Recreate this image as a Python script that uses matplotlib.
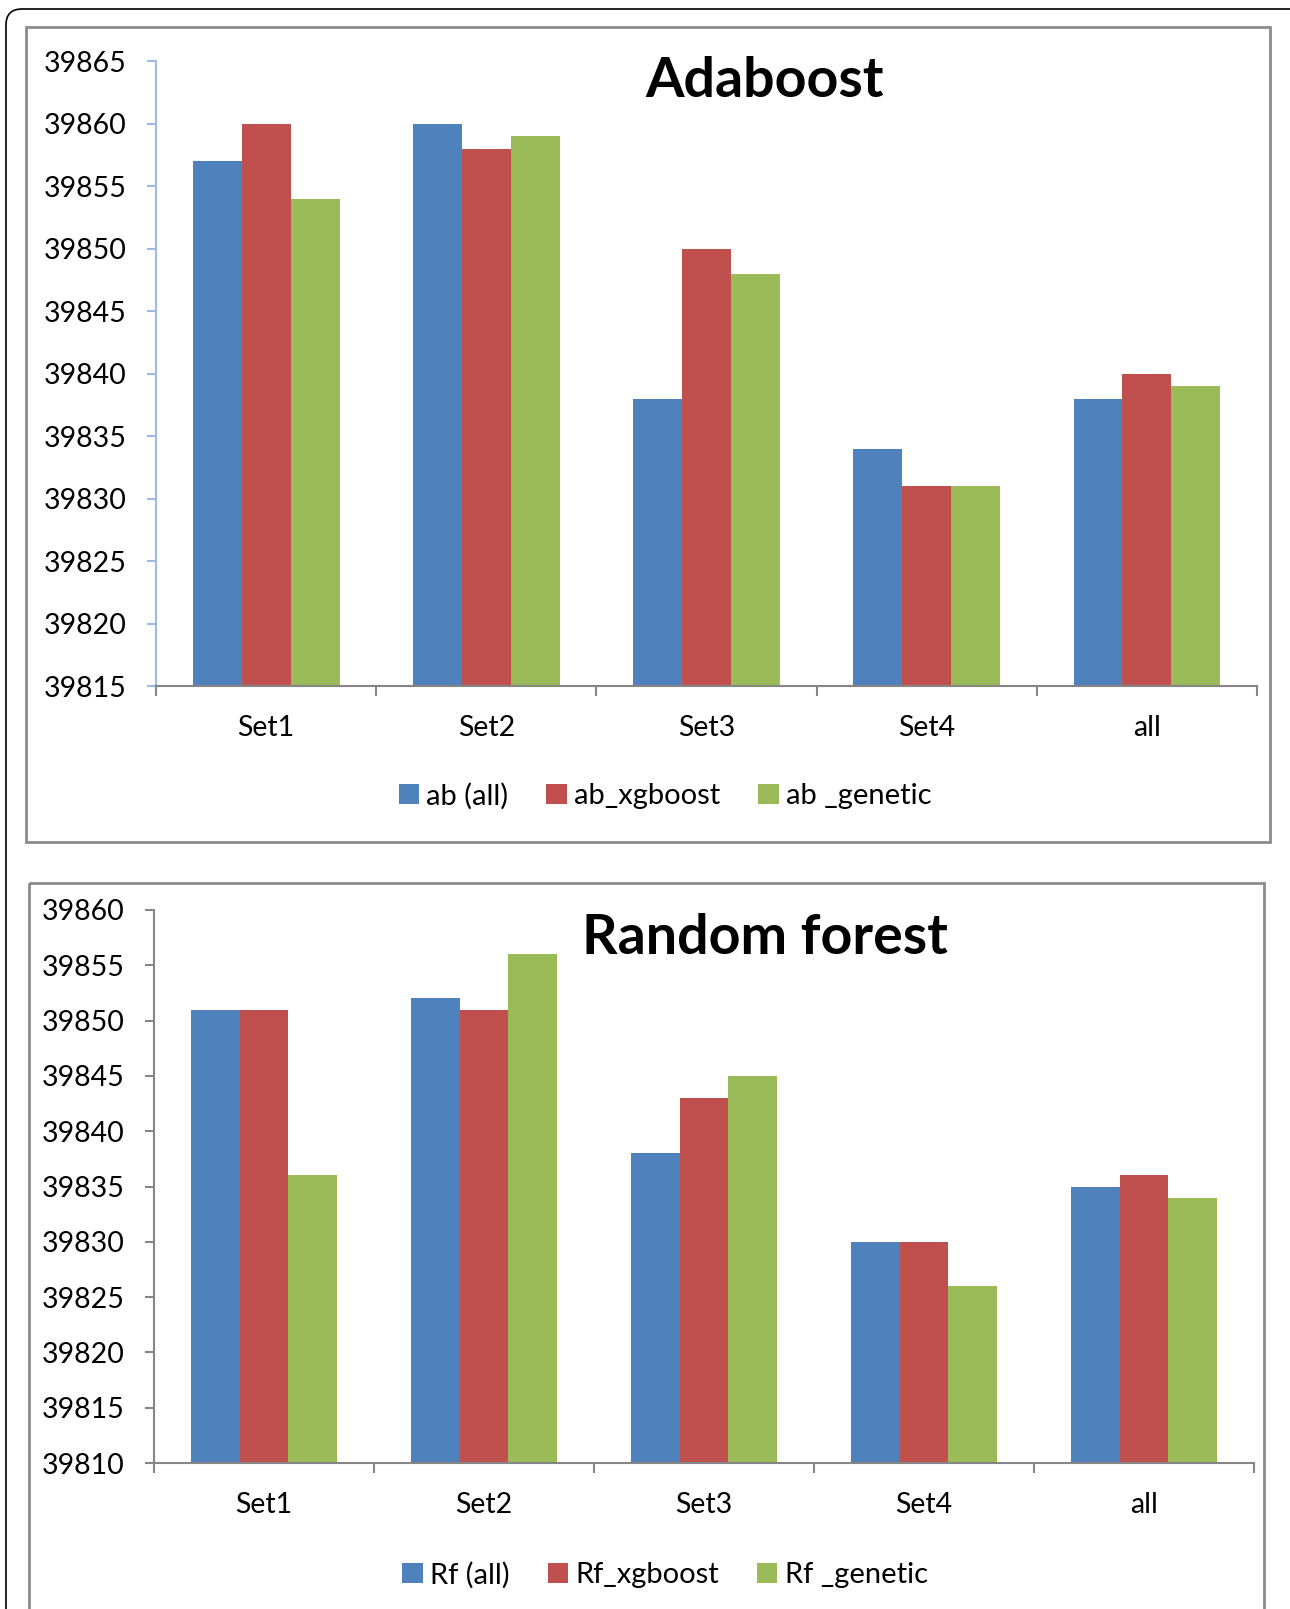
import matplotlib
matplotlib.use("Agg")
import matplotlib.pyplot as plt
from matplotlib.patches import FancyBboxPatch, Rectangle
import numpy as np

plt.rcParams['font.family'] = ['Lato', 'DejaVu Sans']

categories = ["Set1", "Set2", "Set3", "Set4", "all"]

ab_all = [39857, 39860, 39838, 39834, 39838]
ab_xgboost = [39860, 39858, 39850, 39831, 39840]
ab_genetic = [39854, 39859, 39848, 39831, 39839]
ab_labels = ["ab (all)", "ab_xgboost", "ab _genetic"]
ab_yticks = [39815, 39820, 39825, 39830, 39835, 39840, 39845, 39850, 39855, 39860, 39865]

rf_all = [39851, 39852, 39838, 39830, 39835]
rf_xgboost = [39851, 39851, 39843, 39830, 39836]
rf_genetic = [39836, 39856, 39845, 39826, 39834]
rf_labels = ["Rf (all)", "Rf_xgboost", "Rf _genetic"]
rf_yticks = [39810, 39815, 39820, 39825, 39830, 39835, 39840, 39845, 39850, 39855, 39860]

colors = ["#4F81BD", "#C0504D", "#9BBB59"]

W, H = 1290, 1609
fig = plt.figure(figsize=(W / 100, H / 100), dpi=100)

# background frame axes in pixel coordinates
bg = fig.add_axes([0, 0, 1, 1], zorder=-10)
bg.set_xlim(0, W)
bg.set_ylim(H, 0)
bg.axis("off")
bg.add_patch(FancyBboxPatch((6, 9), W - 6 + 20, H + 40, boxstyle="round,pad=0,rounding_size=16",
                            fill=False, edgecolor="black", linewidth=1.2))
bg.add_patch(Rectangle((26, 27), 1244, 815, fill=False, edgecolor="#8C8C8C", linewidth=2))
bg.add_patch(Rectangle((29, 883), 1235, 800, fill=False, edgecolor="#8C8C8C", linewidth=2))


def px_axes(l, t, r, b):
    return fig.add_axes([l / W, 1 - b / H, (r - l) / W, (b - t) / H])


def draw(ax, series, labels, yticks, title, title_y, leg_y, yaxis_color):
    x = np.arange(len(categories)) + 0.5
    bw = 1 / 4.5
    handles = []
    for i, (vals, lab) in enumerate(zip(series, labels)):
        h = ax.bar(x + (i - 1) * bw, np.array(vals) - yticks[0], width=bw, bottom=yticks[0],
                   color=colors[i], label=lab, zorder=2, linewidth=0)
        handles.append(h)
    ax.set_xlim(0, len(categories))
    ax.set_ylim(yticks[0], yticks[-1])
    ax.set_yticks(yticks)
    ax.set_yticklabels([str(v) for v in yticks])
    ax.set_xticks(np.arange(len(categories) + 1))
    ax.set_xticklabels([])
    ax.set_xticks(x, minor=True)
    ax.set_xticklabels(categories, minor=True)
    ax.tick_params(axis="x", which="major", direction="out", length=7.5, width=1.5, color="#868686")
    ax.tick_params(axis="x", which="minor", length=0, pad=21, labelsize=20.5)
    ax.tick_params(axis="y", direction="out", length=6.5, width=1.5, color=yaxis_color, pad=14.5, labelsize=20.5)
    for s in ["top", "right"]:
        ax.spines[s].set_visible(False)
    ax.spines["left"].set_color(yaxis_color)
    ax.spines["left"].set_linewidth(1.5)
    ax.spines["bottom"].set_color("#868686")
    ax.spines["bottom"].set_linewidth(1.5)
    ax.spines["bottom"].set_zorder(3)
    fig.text(765 / W, 1 - title_y / H, title, ha="center", va="center",
             fontsize=40, fontweight="bold")
    fig.legend(handles, labels, loc="center", bbox_to_anchor=(665 / W, 1 - leg_y / H),
               ncol=3, frameon=False, fontsize=21, handlelength=0.7, handleheight=0.7,
               handletextpad=0.25, columnspacing=1.3)


ax1 = px_axes(156, 61, 1257, 686)
draw(ax1, [ab_all, ab_xgboost, ab_genetic], ab_labels, ab_yticks, "Adaboost", 81, 796, "#9DB9E5")

ax2 = px_axes(154, 910, 1254, 1463)
draw(ax2, [rf_all, rf_xgboost, rf_genetic], rf_labels, rf_yticks, "Random forest", 938, 1575, "#868686")

fig.savefig("out.png", dpi=100)
